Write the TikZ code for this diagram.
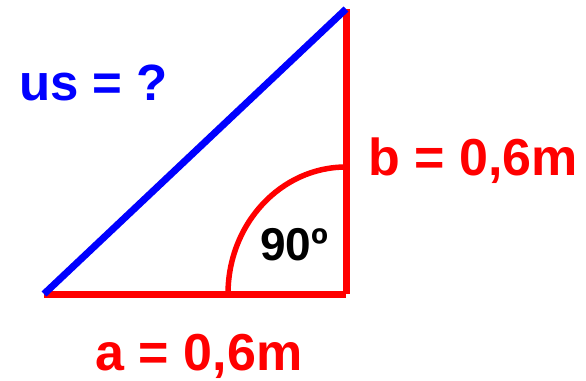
\documentclass[tikz,border=0pt]{standalone}
\usepackage{fontspec}
\setmainfont{Liberation Sans}
\begin{document}
\begin{tikzpicture}[x=1pt,y=-1pt,
  redline/.style={draw={rgb,255:red,255;green,0;blue,0},line width=7pt},
  blueline/.style={draw={rgb,255:red,0;green,0;blue,255},line width=7pt},
  lbl/.style={font=\fontsize{52}{52}\selectfont\bfseries,inner sep=0pt,anchor=base}]
\definecolor{myred}{RGB}{255,0,0}
\definecolor{myblue}{RGB}{0,0,255}
\useasboundingbox (0,0) rectangle (586,380);
\coordinate (A) at (44,294);
\coordinate (C) at (346,294);
\coordinate (B) at (346,9);
\coordinate (P) at (228,294);
\coordinate (Q) at (346,167);
\draw[redline] (A) -- (C);
\draw[redline] (C) -- (B);
\draw[redline,line width=5.5pt] (P) arc[start angle=180,end angle=90,x radius=118,y radius=-127];
\draw[blueline] (A) -- (B);
\node[lbl,text=myblue,font=\fontsize{51}{51}\selectfont\bfseries] (us) at (93.5,100) {us = ?};
\node[lbl,text=myred] (b) at (473,175) {b = 0,6m};
\node[lbl,text=myred] (a) at (199,370.5) {a = 0,6m};
\node[lbl,font=\fontsize{46}{46}\selectfont\bfseries] (ang) at (294,260) {90º};
\end{tikzpicture}
\end{document}
